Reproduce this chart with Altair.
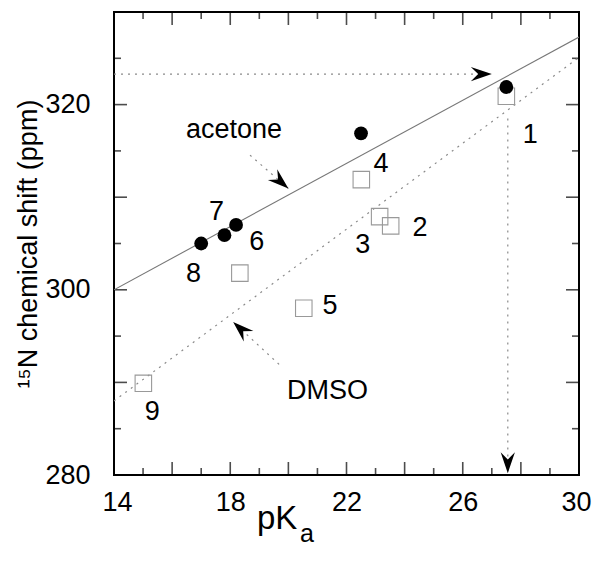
import math
import altair as alt
import pandas as pd

FONT = "Liberation Sans"

# ---- axes ----
x_domain = [14, 30]
y_domain = [280, 330]
x_labels = [14, 18, 22, 26, 30]
y_labels = [280, 300, 320]
x_major = [16, 18, 20, 22, 24, 26, 28]
x_minor = [15, 17, 19, 21, 23, 25, 27, 29]
y_major = [290, 300, 310, 320]
y_minor = [285, 295, 305, 315, 325]

# ---- data ----
acetone_id = ["1", "4", "6", "7", "8"]
acetone_pka = [27.5, 22.5, 18.2, 17.8, 17.0]
acetone_shift = [321.9, 316.9, 307.0, 305.9, 305.0]

dmso_id = ["1", "2", "3", "4", "5", "6", "9"]
dmso_pka = [27.5, 23.52, 23.14, 22.51, 20.53, 18.33, 15.01]
dmso_shift = [320.9, 306.9, 307.9, 311.9, 298.0, 301.8, 289.9]

fit_x = [14, 30]
acetone_fit = [300.0, 327.3]
dmso_fit = [288.0, 325.1]

label_text = ["1", "2", "3", "4", "5", "6", "7", "8", "9", "acetone", "DMSO"]
label_x = [28.32, 24.53, 22.56, 23.19, 21.43, 18.91, 17.53, 16.74, 15.32, 18.13, 21.35]
label_y = [315.8, 305.78, 303.98, 312.74, 297.43, 304.27, 307.51, 300.84, 285.97, 316.38, 288.24]

# guide lines (arrow head at the end point)
guide_x1 = [14.0, 27.55, 18.68, 19.68]
guide_y1 = [323.3, 318.5, 314.54, 291.95]
guide_x2 = [27.0, 27.55, 20.0, 18.1]
guide_y2 = [323.3, 280.2, 310.94, 296.52]

W, H = 465, 463

xs = alt.Scale(domain=x_domain, nice=False, zero=False)
ys = alt.Scale(domain=y_domain, nice=False, zero=False)
xaxis = alt.Axis(values=x_labels, ticks=False, tickSize=0, domain=False, grid=False,
                 labelFontSize=27, labelFont=FONT, labelColor="black",
                 labelBaseline="alphabetic", labelPadding=35, labelFlush=True,
                 labelFlushOffset=12,
                 labelOverlap=False, labelBound=False, title=None)
yaxis = alt.Axis(values=y_labels, ticks=False, tickSize=0, domain=False, grid=False,
                 labelFontSize=27, labelFont=FONT, labelColor="black",
                 labelBaseline="middle", labelPadding=24, labelFlush=False,
                 labelOverlap=False, labelBound=False,
                 title="¹⁵N chemical shift (ppm)", titleFont=FONT, titleFontSize=27,
                 titleFontWeight="normal", titleColor="black", titleAngle=270,
                 titleX=-78, titleY=H / 2, titleBaseline="alphabetic", titleAlign="center")


def X(f):
    return alt.X(f, type="quantitative", scale=xs, axis=xaxis)


def Y(f):
    return alt.Y(f, type="quantitative", scale=ys, axis=yaxis)


# tick tables
vt_major = pd.DataFrame({"x": [v for v in x_major for _ in y_domain],
                         "y": [e for _ in x_major for e in y_domain]})
vt_minor = pd.DataFrame({"x": [v for v in x_minor for _ in y_domain],
                         "y": [e for _ in x_minor for e in y_domain]})
ht_major = pd.DataFrame({"x": [e for _ in y_major for e in x_domain],
                         "y": [v for v in y_major for _ in x_domain]})
ht_minor = pd.DataFrame({"x": [e for _ in y_minor for e in x_domain],
                         "y": [v for v in y_minor for _ in x_domain]})

tick_layers = [
    alt.Chart(vt_major).mark_tick(orient="vertical", size=26, thickness=1.6, color="black", clip=True).encode(x=X("x"), y=Y("y")),
    alt.Chart(vt_minor).mark_tick(orient="vertical", size=14, thickness=1.6, color="black", clip=True).encode(x=X("x"), y=Y("y")),
    alt.Chart(ht_major).mark_tick(orient="horizontal", size=26, thickness=1.6, color="black", clip=True).encode(x=X("x"), y=Y("y")),
    alt.Chart(ht_minor).mark_tick(orient="horizontal", size=14, thickness=1.6, color="black", clip=True).encode(x=X("x"), y=Y("y")),
]

fit_df = pd.DataFrame({"x": fit_x * 2, "y": acetone_fit + dmso_fit,
                       "s": ["acetone"] * 2 + ["DMSO"] * 2})
acetone_line = alt.Chart(fit_df[fit_df.s == "acetone"]).mark_line(
    color="#777777", strokeWidth=1.1, clip=True).encode(x=X("x"), y=Y("y"))
dmso_line = alt.Chart(fit_df[fit_df.s == "DMSO"]).mark_line(
    color="#8a8a8a", strokeWidth=1.2, strokeDash=[2, 5], clip=True).encode(x=X("x"), y=Y("y"))

guide_df = pd.DataFrame({"x": guide_x1, "y": guide_y1, "x2": guide_x2, "y2": guide_y2})
guide_df["angle"] = [
    math.degrees(math.atan2(-(b2 - b1) * H / (y_domain[1] - y_domain[0]),
                            (a2 - a1) * W / (x_domain[1] - x_domain[0]))) % 360
    for a1, b1, a2, b2 in zip(guide_x1, guide_y1, guide_x2, guide_y2)
]
guides = alt.Chart(guide_df).mark_rule(color="#8a8a8a", strokeWidth=1.2, strokeDash=[2, 5]).encode(
    x=X("x"), y=Y("y"), x2="x2", y2="y2")
arrows = alt.Chart(guide_df).mark_point(
    shape="M0,0L-2,-0.68L-1.3,0L-2,0.68Z", filled=True, color="black", opacity=1, size=440
).encode(x=X("x2"), y=Y("y2"), angle=alt.Angle("angle:Q", scale=None))

dmso_df = pd.DataFrame({"x": dmso_pka, "y": dmso_shift, "id": dmso_id})
ac_df = pd.DataFrame({"x": acetone_pka, "y": acetone_shift, "id": acetone_id})
squares = alt.Chart(dmso_df).mark_point(shape="square", filled=False, color="#999999",
                                        strokeWidth=1.1, size=272, opacity=1).encode(x=X("x"), y=Y("y"))
circles = alt.Chart(ac_df).mark_point(shape="circle", filled=True, color="black",
                                      size=190, opacity=1).encode(x=X("x"), y=Y("y"))

lab_df = pd.DataFrame({"x": label_x, "y": label_y, "t": label_text})
labels = alt.Chart(lab_df).mark_text(font=FONT, fontSize=27, color="black", align="center",
                                     baseline="alphabetic").encode(x=X("x"), y=Y("y"), text="t:N")

xt_df = pd.DataFrame({"x": [18.92], "y": [274.22], "t": ["pK"]})
xs_df = pd.DataFrame({"x": [20.40], "y": [272.75], "t": ["a"]})
xtitle = alt.Chart(xt_df).mark_text(font=FONT, fontSize=33, color="black", align="left",
                                    baseline="alphabetic").encode(x=X("x"), y=Y("y"), text="t:N")
xsub = alt.Chart(xs_df).mark_text(font=FONT, fontSize=25, color="black", align="left",
                                  baseline="alphabetic").encode(x=X("x"), y=Y("y"), text="t:N")

chart = alt.layer(
    *tick_layers, acetone_line, dmso_line, guides, squares, circles, arrows, labels, xtitle, xsub
).properties(
    width=W, height=H,
    autosize=alt.AutoSizeParams(type="none"),
    padding={"left": 106, "top": 4, "right": 13, "bottom": 72},
    background="white",
).configure_view(stroke="black", strokeWidth=2)

chart.save("out.html", embed_options={"renderer": "svg", "actions": False})
